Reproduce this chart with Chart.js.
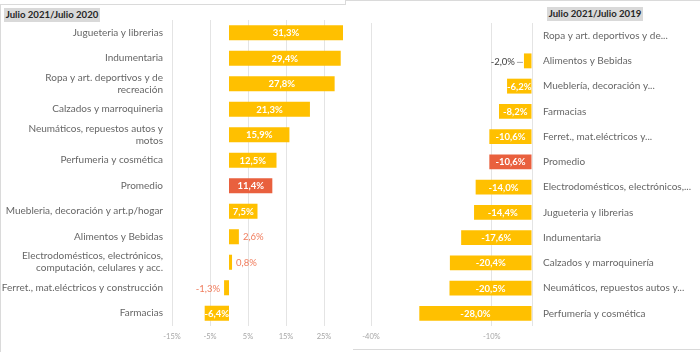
<!DOCTYPE html>
<html><head><meta charset="utf-8">
<script src="https://cdn.jsdelivr.net/npm/chart.js@4/dist/chart.umd.min.js"></script>
<style>
html,body{margin:0;padding:0;background:#fff;}
#wrap{position:relative;width:700px;height:352px;overflow:hidden;background:#fff;font-family:Lato,sans-serif;}
canvas{position:absolute;top:0;}
.ttl{position:absolute;background:#D9D9D9;color:#262626;font:bold 9.6px Lato,sans-serif;line-height:14px;height:14px;text-align:center;}
.ln{position:absolute;background:#DADADA;}
</style></head>
<body><div id="wrap">
<canvas id="c1" width="350" height="352" style="left:0"></canvas>
<canvas id="c2" width="350" height="352" style="left:350px"></canvas>
<div class="ttl" style="left:4px;top:8px;width:96px;">Julio 2021/Julio 2020</div>
<div class="ttl" style="left:547px;top:7px;width:96px;">Julio 2021/Julio 2019</div>
<div class="ln" style="left:0;top:4px;width:345px;height:1px;"></div>
<div class="ln" style="left:345px;top:0;width:1px;height:5px;"></div>
<div class="ln" style="left:345px;top:0;width:355px;height:1px;"></div>
<div class="ln" style="left:0;top:4px;width:1px;height:348px;"></div>
<div class="ln" style="left:353px;top:349px;width:347px;height:1px;"></div>
</div>
<script>
// ---- Data ----
const categories2020 = [
  ["Jugueteria y librerias"],
  ["Indumentaria"],
  ["Ropa y art. deportivos y de", "recreación"],
  ["Calzados y marroquineria"],
  ["Neumáticos, repuestos autos y", "motos"],
  ["Perfumeria y cosmética"],
  ["Promedio"],
  ["Muebleria, decoración y art.p/hogar"],
  ["Alimentos y Bebidas"],
  ["Electrodomésticos, electrónicos,", "computación, celulares y acc."],
  ["Ferret., mat.eléctricos y construcción"],
  ["Farmacias"]
];
const values2020 = [31.3, 29.4, 27.8, 21.3, 15.9, 12.5, 11.4, 7.5, 2.6, 0.8, -1.3, -6.4];
const ticks2020 = [-15, -5, 5, 15, 25];

const categories2019 = [
  "Ropa y art. deportivos y de...",
  "Alimentos y Bebidas",
  "Mueblería, decoración y...",
  "Farmacias",
  "Ferret., mat.eléctricos y...",
  "Promedio",
  "Electrodomésticos, electrónicos,...",
  "Jugueteria y librerias",
  "Indumentaria",
  "Calzados y marroquinería",
  "Neumáticos, repuestos autos y...",
  "Perfumería y cosmética"
];
const values2019 = [null, -2.0, -6.2, -8.2, -10.6, -10.6, -14.0, -14.4, -17.6, -20.4, -20.5, -28.0];
const ticks2019 = [-40, -10, 0];

const highlightCategory = "Promedio";
const COLOR_BAR = '#FFC000';
const COLOR_AVG = '#E9603E';

Chart.defaults.font.family = 'Lato';

function fmt(v){ return v.toFixed(1).replace('.', ',') + '%'; }
function catName(c){ return Array.isArray(c) ? c.join(' ') : c; }

const barLabels = {
  id: 'barLabels',
  afterDatasetsDraw(chart, args, opts){
    const ctx = chart.ctx, ca = chart.chartArea;
    const ds = chart.data.datasets[0];
    chart.getDatasetMeta(0).data.forEach((bar, i) => {
      const v = ds.data[i];
      if (v == null) return;
      const txt = fmt(v);
      const w = Math.abs(bar.x - bar.base);
      ctx.save();
      ctx.textBaseline = 'middle';
      if (w >= 12) {
        ctx.font = 'bold 9.5px Lato';
        ctx.fillStyle = '#FFFFFF';
        ctx.textAlign = 'center';
        const l = Math.max(Math.min(bar.x, bar.base), ca.left);
        const r = Math.min(Math.max(bar.x, bar.base), ca.right);
        ctx.fillText(txt, (l + r) / 2, bar.y + 0.5);
      } else {
        ctx.font = (opts.outBold ? 'bold ' : '') + '9.5px Lato';
        ctx.fillStyle = opts.outColor;
        const gap = opts.leader ? 9 : 4;
        if (v >= 0) { ctx.textAlign = 'left'; ctx.fillText(txt, bar.x + gap, bar.y + 0.5); }
        else {
          ctx.textAlign = 'right'; ctx.fillText(txt, bar.x - gap, bar.y + 1.5);
          if (opts.leader) {
            ctx.strokeStyle = '#A6A6A6'; ctx.lineWidth = 1;
            ctx.beginPath(); ctx.moveTo(bar.x - 7, bar.y + 1.5); ctx.lineTo(bar.x - 1, bar.y + 1.5); ctx.stroke();
          }
        }
      }
      ctx.restore();
    });
  }
};

function makeChart(id, cats, vals, tickVals, min, max, side, pad, axisW, labelPad, labelOpts){
  const colors = cats.map(c => catName(c) === highlightCategory ? COLOR_AVG : COLOR_BAR);
  return new Chart(document.getElementById(id), {
    type: 'bar',
    data: { labels: cats, datasets: [{ data: vals, backgroundColor: colors, barPercentage: 0.59, categoryPercentage: 1 }] },
    options: {
      indexAxis: 'y', responsive: false, animation: false,
      layout: { padding: pad },
      plugins: { legend: { display: false }, tooltip: { enabled: false }, barLabels: labelOpts },
      scales: {
        x: {
          min: min, max: max,
          afterBuildTicks: s => { s.ticks = tickVals.map(v => ({ value: v })); },
          ticks: { callback: v => v === 0 ? '' : v + '%', color: '#A6A6A6', font: { size: 7.5 }, padding: 6, maxRotation: 0, autoSkip: false },
          grid: { color: '#E4E4E4', drawTicks: false },
          border: { display: false },
          afterFit: s => { s.height = 26; }
        },
        y: {
          position: side,
          ticks: { color: '#666666', font: { size: 10 }, padding: labelPad, autoSkip: false },
          grid: { display: false, drawTicks: false },
          border: { display: false },
          afterFit: s => { s.width = axisW; }
        }
      }
    },
    plugins: [barLabels]
  });
}

makeChart('c1', categories2020, values2020, ticks2020, -15, 30, 'left',
  { top: 20, right: 7, left: 0, bottom: 0 }, 172, 9, { outColor: '#F07C5C', leader: false });
makeChart('c2', categories2019, values2019, ticks2019, -40, 0, 'right',
  { top: 23, right: 0, left: 21, bottom: 0 }, 168, 11, { outColor: '#404040', leader: true });
</script>
</body></html>
